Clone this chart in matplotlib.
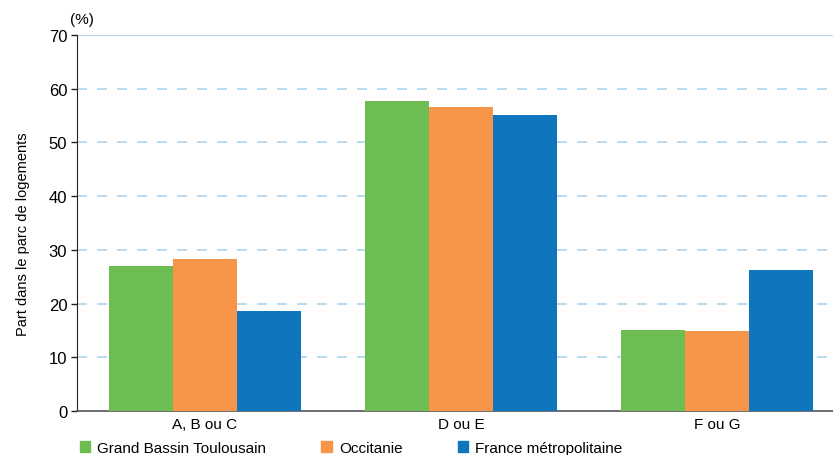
import matplotlib
matplotlib.use("Agg")
import matplotlib.pyplot as plt
import numpy as np
from matplotlib.patches import Patch

plt.rcParams['font.family'] = ['Liberation Sans', 'DejaVu Sans']

# Data
categories = ["A, B ou C", "D ou E", "F ou G"]
series_names = ["Grand Bassin Toulousain", "Occitanie", "France métropolitaine"]
grand_bassin = [27.0, 57.7, 15.1]
occitanie = [28.3, 56.6, 14.9]
france = [18.6, 55.1, 26.3]
colors = ["#6DBD52", "#F79448", "#0F76BD"]

fig = plt.figure(figsize=(8.33, 4.56), dpi=100)
ax = fig.add_axes([77 / 833, 1 - 412 / 456, 768 / 833, 376 / 456])

x = np.arange(len(categories))
width = 0.25
for i, (vals, name) in enumerate(zip([grand_bassin, occitanie, france], series_names)):
    ax.bar(x + (i - 1) * width, vals, width, color=colors[i], label=name, zorder=3)

ax.set_xlim(-0.5, 2.5)
ax.set_ylim(0, 70)
ax.set_yticks(range(0, 71, 10))
ax.set_xticks(x)
ax.set_xticklabels(categories, fontsize=11)
ax.tick_params(axis='y', labelsize=12, length=4, width=1, color='#222222', pad=3)
ax.tick_params(axis='x', length=0, pad=4)

# light blue dashed grid, solid at top
for yv in range(10, 70, 10):
    ax.axhline(yv, color='#AED6EE', lw=1.2, ls=(0, (6, 6)), zorder=1)
ax.axhline(70, color='#9ED0EC', lw=1.2, zorder=1)

for s in ['top', 'right']:
    ax.spines[s].set_visible(False)
ax.spines['left'].set_color('#222222')
ax.spines['bottom'].set_color('#555555')
ax.spines['bottom'].set_linewidth(1.2)

ax.set_ylabel("Part dans le parc de logements", fontsize=10.5)
ax.yaxis.set_label_coords(-47 / 768, (412 - 234) / 376)
fig.text(70 / 833, 1 - 20 / 456, "(%)", fontsize=11, va='center', ha='left')

handles = [Patch(color=c) for c in colors]
fig.legend(handles, series_names, loc='center left', bbox_to_anchor=(66 / 833, 1 - 449 / 456),
           ncol=3, frameon=False, fontsize=11, handlelength=0.7, handleheight=0.7,
           handletextpad=0.45, columnspacing=3.6)

fig.savefig("out.png", dpi=100)
